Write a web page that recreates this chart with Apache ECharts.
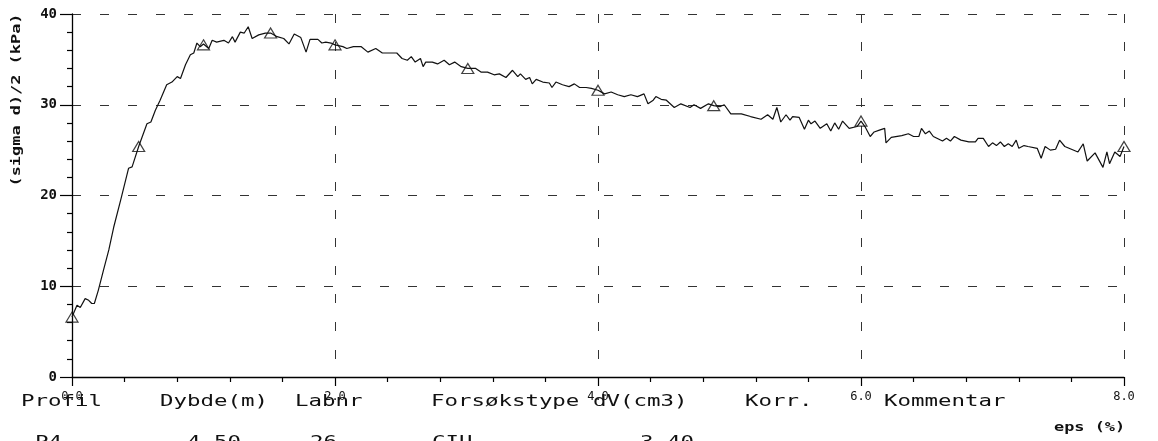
<!DOCTYPE html>
<html>
<head>
<meta charset="utf-8">
<script src="https://cdn.jsdelivr.net/npm/echarts@6/dist/echarts.min.js"></script>
<style>html,body{margin:0;padding:0;background:#fff;}#c{width:1158px;height:441px;}</style>
</head>
<body>
<div id="c"></div>
<script>
// strain eps (%) and shear stress (sigma d)/2 (kPa)
const epsValues = [0.0,0.038,0.063,0.1,0.127,0.15,0.17,0.2,0.24,0.28,0.317,0.37,0.43,0.457,0.507,0.57,0.6,0.634,0.67,0.72,0.76,0.8,0.825,0.863,0.9,0.926,0.95,0.975,1.0,1.04,1.066,1.1,1.155,1.19,1.22,1.24,1.28,1.31,1.34,1.37,1.42,1.47,1.51,1.56,1.61,1.65,1.69,1.74,1.78,1.81,1.87,1.9,1.93,1.97,2.0,2.06,2.09,2.14,2.2,2.25,2.31,2.36,2.47,2.51,2.55,2.58,2.61,2.65,2.67,2.69,2.74,2.78,2.83,2.87,2.91,2.96,3.01,3.07,3.11,3.16,3.21,3.25,3.3,3.35,3.39,3.41,3.45,3.48,3.5,3.53,3.58,3.63,3.65,3.68,3.73,3.78,3.82,3.86,3.91,3.95,4.0,4.05,4.1,4.15,4.2,4.25,4.3,4.35,4.38,4.42,4.44,4.48,4.52,4.58,4.63,4.7,4.73,4.78,4.84,4.88,4.93,4.96,5.01,5.09,5.16,5.24,5.29,5.33,5.36,5.39,5.43,5.46,5.48,5.53,5.57,5.6,5.62,5.65,5.69,5.74,5.77,5.8,5.83,5.86,5.91,5.97,6.0,6.03,6.07,6.1,6.14,6.18,6.19,6.23,6.31,6.36,6.4,6.44,6.46,6.49,6.52,6.55,6.62,6.65,6.68,6.71,6.76,6.82,6.87,6.89,6.93,6.97,7.0,7.03,7.06,7.09,7.12,7.15,7.18,7.2,7.24,7.27,7.34,7.37,7.4,7.44,7.48,7.51,7.55,7.6,7.65,7.69,7.72,7.78,7.84,7.87,7.89,7.93,7.97,8.0];
const tauValues = [6.6,7.9,7.65,8.64,8.45,8.1,8.1,9.55,11.8,14.0,16.5,19.5,23.0,23.15,25.4,27.9,28.1,29.4,30.5,32.2,32.5,33.1,32.9,34.4,35.5,35.7,36.8,36.4,36.7,36.2,37.1,36.9,37.1,36.8,37.5,36.9,38.0,37.9,38.6,37.3,37.7,37.9,37.9,37.5,37.3,36.7,37.8,37.4,35.8,37.2,37.2,36.8,36.9,36.8,36.6,36.4,36.2,36.4,36.4,35.8,36.2,35.7,35.7,35.1,34.9,35.3,34.7,35.1,34.2,34.7,34.7,34.5,34.9,34.4,34.7,34.2,34.0,34.0,33.6,33.6,33.3,33.4,33.0,33.8,33.1,33.4,32.8,33.0,32.3,32.8,32.5,32.4,31.9,32.5,32.2,32.0,32.3,31.9,31.9,31.8,31.6,31.2,31.4,31.1,30.9,31.1,30.9,31.2,30.1,30.5,30.9,30.6,30.5,29.7,30.1,29.7,30.0,29.6,30.1,29.9,29.8,30.0,29.0,29.0,28.7,28.4,28.9,28.4,29.7,28.1,28.9,28.3,28.7,28.6,27.3,28.3,27.9,28.2,27.4,27.9,27.1,28.0,27.3,28.2,27.4,27.6,28.2,27.6,26.5,27.0,27.2,27.4,25.8,26.4,26.6,26.8,26.5,26.5,27.4,26.8,27.1,26.5,26.0,26.3,26.0,26.5,26.1,25.9,25.9,26.3,26.3,25.4,25.8,25.5,25.9,25.4,25.7,25.4,26.1,25.2,25.5,25.4,25.2,24.1,25.4,25.0,25.1,26.1,25.4,25.1,24.8,25.7,23.8,24.7,23.1,24.8,23.5,24.8,24.3,25.4];
// triangle markers
const markerEps = [0.0,0.507,1.0,1.51,2.0,3.01,4.0,4.88,6.0,8.0];
const markerTau = [6.6,25.4,36.6,37.9,36.6,34.0,31.6,29.9,28.2,25.4];
// texts
const yAxisTitle = '(sigma d)/2 (kPa)';
const xAxisTitle = 'eps (%)';
const headerLabels = ['Profil','Dybde(m)','Labnr','Forsøkstype','dV(cm3)','Korr.','Kommentar'];
const rowLabels = ['P4','4.50','26','CIU','3.40'];

const headerX = [21,160,295,431,593,745,884];
const rowX = [35,187,310,432,640];

const MONO = '"DejaVu Sans Mono", "Liberation Mono", monospace';

const lineData = epsValues.map((x,i)=>[x,tauValues[i]]);
const markerData = markerEps.map((x,i)=>[x,markerTau[i]]);

const graphics = [];
headerLabels.forEach((t,i)=>{
  graphics.push({type:'text', x:headerX[i], y:402, scaleX:1.4, z:10,
    style:{text:t, font:'16px '+MONO, fill:'#111', verticalAlign:'middle', align:'left'}});
});
rowLabels.forEach((t,i)=>{
  graphics.push({type:'text', x:rowX[i], y:435, scaleX:1.4, z:10,
    style:{text:t, font:'16px '+MONO, fill:'#111', verticalAlign:'top', align:'left'}});
});
graphics.push({type:'text', x:17, y:100, rotation:Math.PI/2, scaleX:1.3, z:10,
  style:{text:yAxisTitle, font:'bold 13px '+MONO, fill:'#111', align:'center', verticalAlign:'middle'}});
graphics.push({type:'text', x:1054, y:428, scaleX:1.3, z:10,
  style:{text:xAxisTitle, font:'bold 13px '+MONO, fill:'#111', align:'left', verticalAlign:'middle'}});

const dashed = {show:true, lineStyle:{color:'#333', width:1, type:[9,19]}};

const chart = echarts.init(document.getElementById('c'), null, {renderer:'canvas'});
chart.setOption({
  animation:false,
  backgroundColor:'#fff',
  grid:{left:72, right:34, top:14, bottom:64, containLabel:false},
  xAxis:{type:'value', min:0, max:8, interval:2,
    axisLine:{show:true, onZero:false, lineStyle:{color:'#000', width:1.3}},
    axisTick:{show:true, length:9, lineStyle:{color:'#000', width:1.2}},
    minorTick:{show:true, splitNumber:5, length:5, lineStyle:{color:'#000', width:1.2}},
    splitLine:dashed,
    axisLabel:{margin:14, fontSize:12, color:'#111', fontFamily:MONO, formatter:v=>v.toFixed(1)}
  },
  yAxis:{type:'value', min:0, max:40, interval:10,
    axisLine:{show:true, onZero:false, lineStyle:{color:'#000', width:1.3}},
    axisTick:{show:true, length:12, lineStyle:{color:'#000', width:1.2}},
    minorTick:{show:true, splitNumber:5, length:5, lineStyle:{color:'#000', width:1.2}},
    splitLine:dashed,
    axisLabel:{margin:15, fontSize:14, color:'#111', fontFamily:MONO, fontWeight:'bold'}
  },
  series:[
    {type:'line', data:lineData, showSymbol:false, symbol:'none',
     lineStyle:{color:'#111', width:1.2}, z:3},
    {type:'scatter', data:markerData, symbol:'triangle', symbolSize:[12,10],
     itemStyle:{color:'rgba(255,255,255,0)', borderColor:'#111', borderWidth:1.2}, z:4}
  ],
  graphic:graphics
});
</script>
</body>
</html>
